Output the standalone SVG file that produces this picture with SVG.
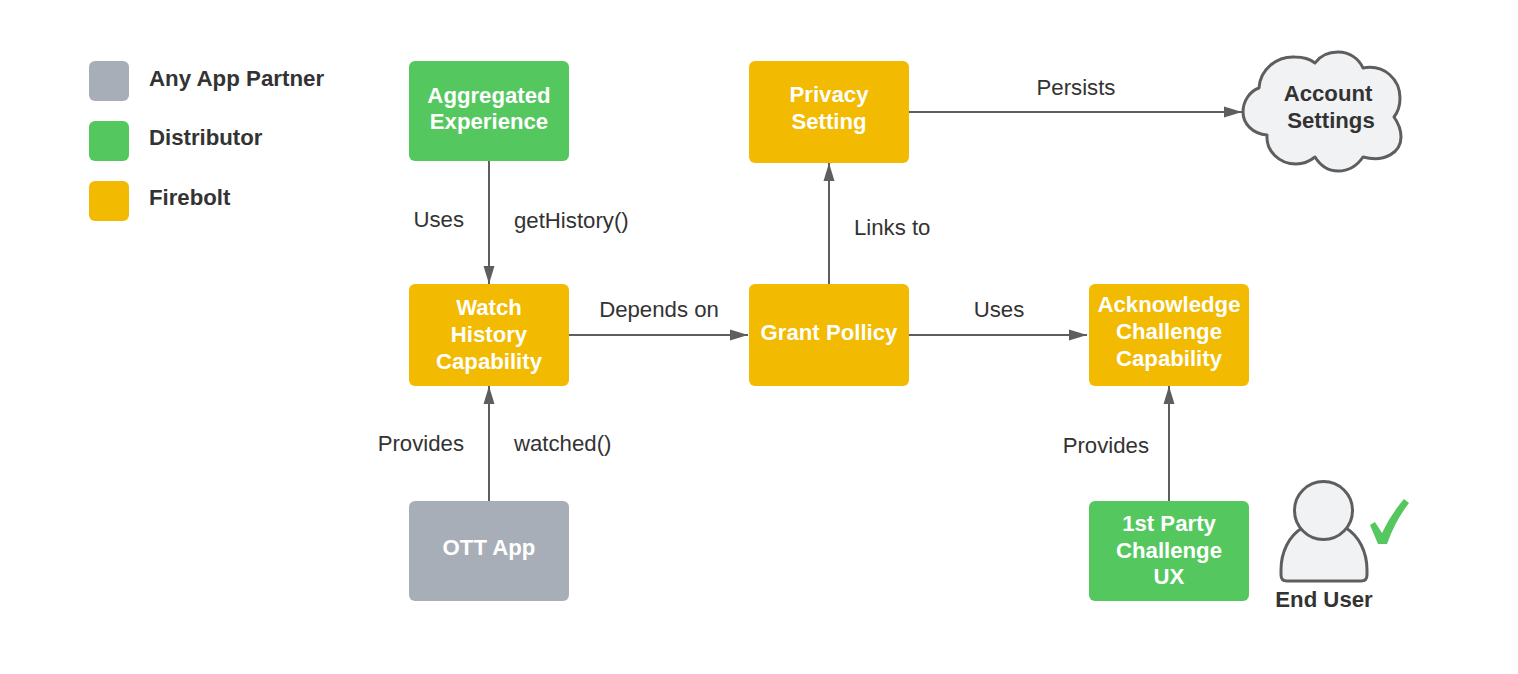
<svg xmlns="http://www.w3.org/2000/svg" width="1518" height="674" viewBox="0 0 1518 674">
<style>
text{font-family:"Liberation Sans",Arial,sans-serif;font-size:22.2px;text-anchor:middle}
.w{fill:#fff;font-weight:bold}
.d{fill:#333;font-weight:bold}
.l{fill:#333}
.s{text-anchor:start}
.g{fill:#a7aeb8}.v{fill:#54c75e}.y{fill:#f2ba00}
.c{fill:none;stroke:#5e5e5e;stroke-width:2;marker-end:url(#a)}
.o{fill:#f1f2f4;stroke:#5e5e5e;stroke-width:3;stroke-linejoin:round}
</style>
<defs><marker id="a" markerUnits="userSpaceOnUse" markerWidth="20" markerHeight="14" refX="18" refY="7" orient="auto"><path d="M0 1.500 L18 7 L0 12.500Z" fill="#5e5e5e"/></marker></defs>
<rect width="1518" height="674" fill="#fff"/>
<g id="legend">
<rect class="g" x="89" y="61" width="40" height="40" rx="6"/><text class="d s" x="149" y="85.500" style="font-size:22.3px">Any App Partner</text>
<rect class="v" x="89" y="121" width="40" height="40" rx="6"/><text class="d s" x="149" y="145">Distributor</text>
<rect class="y" x="89" y="181" width="40" height="40" rx="6"/><text class="d s" x="149" y="205">Firebolt</text>
</g>
<g id="connectors">
<path class="c" d="M489 161V284"/><path class="c" d="M489 501V386"/><path class="c" d="M569 335H748"/><path class="c" d="M829 284V163"/><path class="c" d="M909 335H1087"/><path class="c" d="M909 112H1242"/><path class="c" d="M1169 501V386"/>
<text class="l" x="464" y="227" style="text-anchor:end">Uses</text><text class="l s" x="514" y="228">getHistory()</text>
<text class="l" x="464" y="451" style="text-anchor:end">Provides</text><text class="l s" x="514" y="451">watched()</text>
<text class="l" x="659" y="317">Depends on</text><text class="l" x="999" y="317">Uses</text>
<text class="l s" x="854" y="235">Links to</text><text class="l" x="1076" y="95">Persists</text>
<text class="l" x="1149" y="453" style="text-anchor:end">Provides</text>
</g>
<g id="aggregated"><rect class="v" x="409" y="61" width="160" height="100" rx="6"/><text class="w" x="489" y="103">Aggregated</text><text class="w" x="489" y="129">Experience</text></g>
<g id="privacy"><rect class="y" x="749" y="61" width="160" height="102" rx="6"/><text class="w" x="829" y="102">Privacy</text><text class="w" x="829" y="129">Setting</text></g>
<g id="watch"><rect class="y" x="409" y="284" width="160" height="102" rx="6"/><text class="w" x="489" y="315">Watch</text><text class="w" x="489" y="342">History</text><text class="w" x="489" y="369">Capability</text></g>
<g id="grant"><rect class="y" x="749" y="284" width="160" height="102" rx="6"/><text class="w" x="829" y="340">Grant Pollicy</text></g>
<g id="ack"><rect class="y" x="1089" y="284" width="160" height="102" rx="6"/><text class="w" x="1169" y="312">Acknowledge</text><text class="w" x="1169" y="339">Challenge</text><text class="w" x="1169" y="366">Capability</text></g>
<g id="ott"><rect class="g" x="409" y="501" width="160" height="100" rx="6"/><text class="w" x="489" y="555">OTT App</text></g>
<g id="firstparty"><rect class="v" x="1089" y="501" width="160" height="100" rx="6"/><text class="w" x="1169" y="531">1st Party</text><text class="w" x="1169" y="558">Challenge</text><text class="w" x="1169" y="584">UX</text></g>
<g id="account"><path class="o" d="M1259 88C1260 70 1276 56 1295 57C1303 57 1310 59 1315 63C1320 56 1328 52 1338 52C1350 52 1359 59 1363 68C1385 64 1400 80 1400 98C1400 106 1398 112 1394 117C1399 124 1401 131 1401 137C1401 152 1385 163 1363 157C1357 166 1348 171 1338 171C1328 171 1320 165 1315 157C1310 161 1304 164 1296 164C1279 164 1266 151 1267 135C1253 134 1243 124 1243 112C1243 101 1250 91 1259 88Z"/><text class="d" x="1328" y="101">Account</text><text class="d" x="1331" y="128">Settings</text></g>
<g id="enduser"><path class="o" d="M1302 528C1289 536 1281 552 1281 570V575Q1281 581 1287 581H1361Q1367 581 1367 575V570C1367 552 1359 536 1346 528"/><circle class="o" cx="1323.500" cy="510.500" r="29"/><path d="M1370 525L1375 522L1382 533Q1391 514 1404 499L1409 503Q1395 521 1387 544H1378Z" fill="#54c75e"/><text class="d" x="1324" y="607">End User</text></g>
</svg>
